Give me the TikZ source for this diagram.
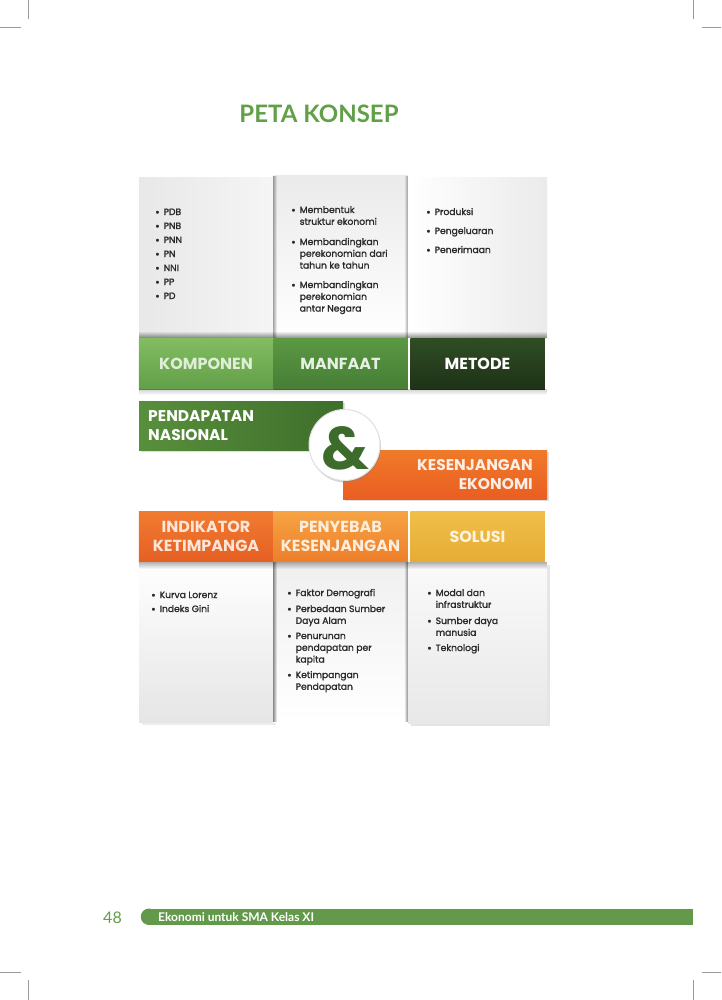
\documentclass[tikz,border=0pt]{standalone}
\usepackage{fontspec}
\setmainfont{Poppins}
\newfontfamily\bodyf[FakeBold=1.4]{Poppins}
\newfontfamily\lato{Lato}
\usetikzlibrary{shadows,fadings}

\definecolor{ttlgreen}{HTML}{61A046}
\definecolor{footgreen}{HTML}{62994A}
\definecolor{txtgray}{HTML}{2A2A2A}
\definecolor{kompA}{HTML}{82BD62}
\definecolor{kompB}{HTML}{639F48}
\definecolor{manA}{HTML}{5B9843}
\definecolor{manB}{HTML}{467F35}
\definecolor{metA}{HTML}{304D25}
\definecolor{metB}{HTML}{1E3217}
\definecolor{pendA}{HTML}{588F3C}
\definecolor{pendB}{HTML}{3E6E2B}
\definecolor{kesA}{HTML}{F07A2A}
\definecolor{kesB}{HTML}{EA5E22}
\definecolor{indA}{HTML}{F07C30}
\definecolor{indB}{HTML}{E65F24}
\definecolor{penA}{HTML}{F6A444}
\definecolor{penB}{HTML}{EE7E2A}
\definecolor{solA}{HTML}{F0BF48}
\definecolor{solB}{HTML}{E6AC35}
\definecolor{ampgreen}{HTML}{3D6B2C}
\definecolor{cropgray}{HTML}{9A9A9A}

\newcommand\bu{\makebox[8.5pt][l]{\raisebox{-0.9pt}{\fontsize{11}{11}\selectfont\textbullet}}}
\newcommand\itm[1]{\bu\begin{tabular}[t]{@{}l@{}}#1\end{tabular}}

\tikzset{
  bar/.style={inner sep=0pt, minimum height=51pt, align=center,
    font=\bfseries\fontsize{16}{19}\selectfont},
  topcell/.style={bar, minimum width=134.5pt},
  item/.style={anchor=base west, inner sep=0pt, text=txtgray,
    font=\bodyf\fontsize{9.2}{11.8}\selectfont},
  crop/.style={draw=cropgray, line width=0.6pt},
  edgeshadow/.style={fill=black, opacity=.35}
}

\begin{document}
\begin{tikzpicture}[x=1pt,y=-1pt]
\useasboundingbox (0,0) rectangle (721,1000);
\fill[white] (0,0) rectangle (721,1000);

% crop marks
\draw[crop] (28.5,0) -- (28.5,19);
\draw[crop] (0,27) -- (21,27);
\draw[crop] (693,0) -- (693,19);
\draw[crop] (702,27) -- (721,27);
\draw[crop] (0,972) -- (21,972);
\draw[crop] (28.5,980) -- (28.5,1000);
\draw[crop] (702,972) -- (721,972);
\draw[crop] (693,980) -- (693,1000);

% title
\node[font=\lato\bfseries\fontsize{24}{28}\selectfont, text=ttlgreen] (title) at (319,114) {PETA KONSEP};

% ---------- upper block: panels ----------
\shade[left color=black!9, right color=black!4, drop shadow={opacity=.15}] (139,178) rectangle (273,338);
\shade[top color=black!8, bottom color=white] (273,176) rectangle (408,338);
\shade[left color=white, right color=black!8] (408,178) rectangle (547,338);
\fill[edgeshadow, path fading=east] (273,176) rectangle (277,338);
\fill[edgeshadow, path fading=west] (404,176) rectangle (408,338);
\fill[black, opacity=.45, path fading=north] (139,331) rectangle (547,338);

% upper lists
\node[item] (k1) at (155,215) {\itm{PDB}};
\node[item] (k2) at (155,229) {\itm{PNB}};
\node[item] (k3) at (155,243) {\itm{PNN}};
\node[item] (k4) at (155,257) {\itm{PN}};
\node[item] (k5) at (155,271) {\itm{NNI}};
\node[item] (k6) at (155,285) {\itm{PP}};
\node[item] (k7) at (155,299) {\itm{PD}};

\node[item] (m1) at (291,213) {\itm{Membentuk\\struktur ekonomi}};
\node[item] (m2) at (291,245) {\itm{Membandingkan\\perekonomian dari\\tahun ke tahun}};
\node[item] (m3) at (291,288) {\itm{Membandingkan\\perekonomian\\antar Negara}};

\node[item] (t1) at (426,215) {\itm{Produksi}};
\node[item] (t2) at (426,234) {\itm{Pengeluaran}};
\node[item] (t3) at (426,253) {\itm{Penerimaan}};

% upper header bar
\node[topcell, top color=kompA, bottom color=kompB, text=kompA!25!white] (komp) at (206,363.5) {KOMPONEN};
\node[topcell, top color=manA, bottom color=manB, text=manA!15!white] (manf) at (340.5,363.5) {MANFAAT};
\node[topcell, top color=metA, bottom color=metB, text=white] (meto) at (477.5,363.5) {METODE};
\fill[black, opacity=.18, path fading=south] (139,389) rectangle (547,395);

% ---------- central title boxes ----------
\node[inner sep=0pt, minimum width=204pt, minimum height=49pt, left color=pendA, right color=pendB,
  drop shadow={opacity=.25, shadow xshift=1.5pt, shadow yshift=-1.5pt}] (pend) at (241,425.5) {};
\node[anchor=west, inner sep=0pt, align=left, text=white,
  font=\bfseries\fontsize{15.5}{19}\selectfont] (pendtxt) at (148,426) {PENDAPATAN\\NASIONAL};

\node[inner sep=0pt, minimum width=204pt, minimum height=49pt, top color=kesA, bottom color=kesB,
  drop shadow={opacity=.25, shadow xshift=1.5pt, shadow yshift=-1.5pt}] (kes) at (445,474.5) {};
\node[anchor=east, inner sep=0pt, align=right, text=kesA!12!white,
  font=\bfseries\fontsize{15.5}{19}\selectfont] (kestxt) at (533,475) {KESENJANGAN\\EKONOMI};

\node[circle, inner sep=0pt, minimum size=71pt, fill=white, draw=black!12, line width=1pt,
  drop shadow={opacity=.35, shadow xshift=1pt, shadow yshift=-2pt}] (ampc) at (344.5,445) {};
\node[inner sep=0pt, text=ampgreen, font=\bfseries\fontsize{60}{60}\selectfont] (amp) at (345,448) {\&};

% ---------- lower header bar ----------
\node[topcell, top color=indA, bottom color=indB, text=indA!20!white,
  drop shadow={opacity=.3, shadow xshift=0pt, shadow yshift=-3pt}] (indi) at (206,536.5) {INDIKATOR\\KETIMPANGA};
\node[topcell, top color=penA, bottom color=penB, text=penA!20!white] (peny) at (340.5,536.5) {PENYEBAB\\KESENJANGAN};
\node[topcell, top color=solA, bottom color=solB, text=solA!18!white] (solu) at (477.5,536.5) {SOLUSI};

% ---------- lower block: panels ----------
\shade[top color=white, bottom color=black!10, drop shadow={opacity=.15}] (139,562) rectangle (273,722);
\shade[top color=black!6, bottom color=white] (273,562) rectangle (408,722);
\shade[top color=black!2, bottom color=black!9, drop shadow={opacity=.2}] (408,562) rectangle (547,723);
\fill[edgeshadow, opacity=.45, path fading=east] (273,562) rectangle (277,722);
\fill[edgeshadow, opacity=.45, path fading=west] (404,562) rectangle (408,722);
\fill[black, opacity=.3, path fading=south] (139,562) rectangle (547,569);

% lower lists
\node[item] (i1) at (151,598) {\itm{Kurva Lorenz}};
\node[item] (i2) at (151,612) {\itm{Indeks Gini}};

\node[item] (p1) at (287,596) {\itm{Faktor Demografi}};
\node[item] (p2) at (287,612) {\itm{Perbedaan Sumber\\Daya Alam}};
\node[item] (p3) at (287,639) {\itm{Penurunan\\pendapatan per\\kapita}};
\node[item] (p4) at (287,678) {\itm{Ketimpangan\\Pendapatan}};

\node[item] (s1) at (427,596) {\itm{Modal dan\\infrastruktur}};
\node[item] (s2) at (427,624) {\itm{Sumber daya\\manusia}};
\node[item] (s3) at (427,651) {\itm{Teknologi}};

% ---------- footer ----------
\node[text=ttlgreen, inner sep=0pt, font=\lato\fontsize{16}{18}\selectfont] (pgno) at (112.5,918) {48};
\fill[footgreen] (149,908.5) rectangle (693,925);
\fill[footgreen] (149,916.75) circle (8.25);
\node[anchor=west, inner sep=0pt, text=white, font=\lato\bfseries\fontsize{12}{14}\selectfont] (foot) at (158,917) {Ekonomi untuk SMA Kelas XI};
\end{tikzpicture}
\end{document}
